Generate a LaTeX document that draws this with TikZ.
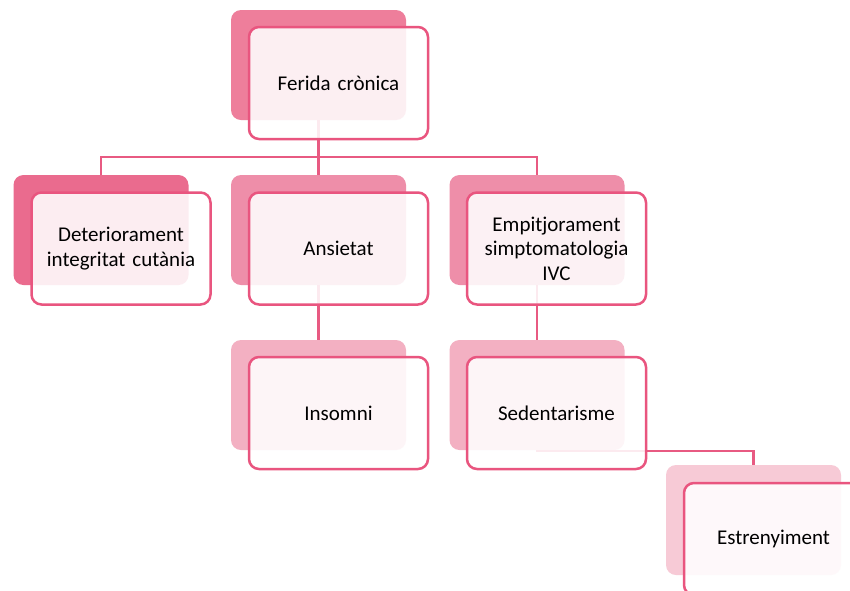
\documentclass[tikz,border=0pt]{standalone}
\usepackage{fontspec}
\setmainfont{Carlito}
\definecolor{lvA}{HTML}{EE7E9B}
\definecolor{lvB}{HTML}{EA6B8E}
\definecolor{lvC}{HTML}{EE8EA9}
\definecolor{lvD}{HTML}{F3B0C2}
\definecolor{lvE}{HTML}{F7CAD6}
\definecolor{edgeC}{HTML}{E85A82}
\definecolor{frameC}{HTML}{E9557F}
\tikzset{
  backbox/.style={rectangle, rounded corners=10pt, minimum width=175pt, minimum height=110pt, inner sep=0pt, draw=none},
  frontbox/.style={rectangle, rounded corners=10pt, minimum width=179pt, minimum height=112pt, inner sep=2pt,
     draw=frameC, line width=2.5pt, fill=white, fill opacity=0.88, text opacity=1,
     align=center, font=\fontsize{21}{24.5}\selectfont, text width=170pt},
  conn/.style={draw=edgeC, line width=2.5pt}
}
\begin{document}
\begin{tikzpicture}[x=1pt,y=-1pt]
\clip (0,0) rectangle (850,590);
\fill[white] (0,0) rectangle (850,590);
% back boxes
\node[backbox, fill=lvA] (b1) at (318.5,65) {};
\node[backbox, fill=lvB] (b2) at (101,230) {};
\node[backbox, fill=lvC] (b3) at (318.5,230) {};
\node[backbox, fill=lvC] (b4) at (537,230) {};
\node[backbox, fill=lvD] (b5) at (318.5,395) {};
\node[backbox, fill=lvD] (b6) at (537,395) {};
\node[backbox, fill=lvE] (b7) at (753.5,520) {};
% connectors
\draw[conn] (b1.south) -- ++(0,37) coordinate (j1);
\draw[conn] (j1) -| (b2.north);
\draw[conn] (j1) -| (b4.north);
\draw[conn] (j1) -- (b3.north);
\draw[conn] (b3.south) -- (b5.north);
\draw[conn] (b4.south) -- (b6.north);
\draw[conn] (b6.south) ++(0,1) coordinate (j2);
\draw[conn] (b6.south) -- (j2) -| (b7.north);
% front boxes
\node[frontbox] (f1) at (338.5,83) {Ferida crònica};
\node[frontbox] (f2) at (121,248.5) {Deteriorament\\integritat cutània};
\node[frontbox] (f3) at (338.5,248.5) {Ansietat};
\node[frontbox] (f4) at (556.5,248.5) {Empitjorament\\simptomatologia\\IVC};
\node[frontbox] (f5) at (338.5,413) {Insomni};
\node[frontbox] (f6) at (556.5,413) {Sedentarisme};
\node[frontbox] (f7) at (773.5,539) {Estrenyiment};
\end{tikzpicture}
\end{document}
